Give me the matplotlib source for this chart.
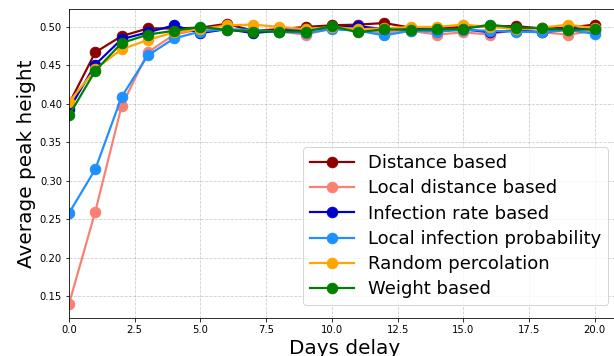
import numpy as np
import matplotlib
matplotlib.use("Agg")
import matplotlib.pyplot as plt

days = np.arange(21)

distance_based = [0.400, 0.467, 0.488, 0.498, 0.498, 0.499, 0.504, 0.495, 0.497, 0.500, 0.502,
                  0.503, 0.505, 0.499, 0.498, 0.500, 0.501, 0.501, 0.498, 0.499, 0.503]
local_distance = [0.140, 0.260, 0.397, 0.467, 0.490, 0.497, 0.496, 0.494, 0.494, 0.490, 0.498,
                  0.495, 0.493, 0.495, 0.490, 0.493, 0.490, 0.497, 0.493, 0.490, 0.495]
infection_rate = [0.393, 0.451, 0.484, 0.493, 0.502, 0.492, 0.497, 0.492, 0.495, 0.496, 0.499,
                  0.501, 0.497, 0.497, 0.495, 0.497, 0.493, 0.495, 0.493, 0.497, 0.497]
local_infection = [0.258, 0.315, 0.409, 0.463, 0.485, 0.494, 0.497, 0.496, 0.494, 0.492, 0.497,
                   0.495, 0.489, 0.495, 0.494, 0.496, 0.495, 0.494, 0.493, 0.496, 0.491]
random_percolation = [0.402, 0.445, 0.471, 0.483, 0.493, 0.497, 0.502, 0.503, 0.500, 0.497, 0.500,
                      0.497, 0.498, 0.500, 0.500, 0.503, 0.500, 0.497, 0.499, 0.503, 0.498]
weight_based = [0.385, 0.443, 0.479, 0.490, 0.495, 0.500, 0.496, 0.494, 0.494, 0.494, 0.501,
                0.493, 0.497, 0.496, 0.497, 0.497, 0.503, 0.499, 0.498, 0.496, 0.497]

series = [
    ("Distance based", distance_based, "darkred"),
    ("Local distance based", local_distance, "salmon"),
    ("Infection rate based", infection_rate, "mediumblue"),
    ("Local infection probability", local_infection, "dodgerblue"),
    ("Random percolation", random_percolation, "orange"),
    ("Weight based", weight_based, "green"),
]

fig = plt.figure(figsize=(614 / 72, 356 / 72), dpi=72)
ax = fig.add_axes([69 / 614, 38 / 356, 552 / 614, 309 / 356])

for name, vals, col in series:
    ax.plot(days, vals, marker="o", markersize=10.5, linewidth=2.2, color=col, label=name)

ax.set_xlim(0, 21)
ax.set_xlabel("Days delay", fontsize=20)
ax.set_ylabel("Average peak height", fontsize=20)
ax.tick_params(labelsize=10)
ax.grid(True, linestyle="--", color="gray", alpha=0.4)
ax.legend(loc="lower right", fontsize=18, labelspacing=0.4, handlelength=2.4,
          borderaxespad=0.7)

fig.savefig("out.png", dpi=72)
